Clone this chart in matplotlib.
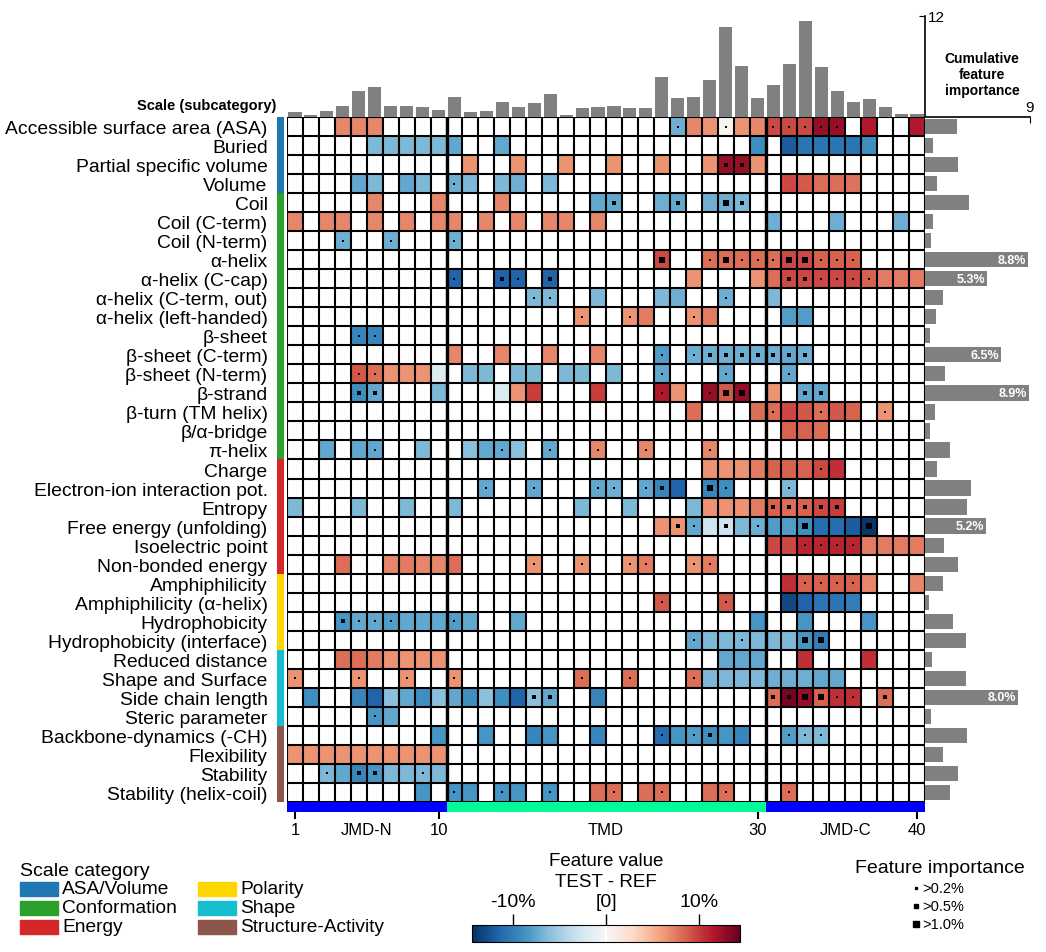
import numpy as np
import matplotlib.pyplot as plt
from matplotlib.patches import Rectangle
from matplotlib.colors import Normalize
from matplotlib.cm import ScalarMappable

plt.rcParams['font.family'] = ['Liberation Sans', 'DejaVu Sans']

# ---- data ----
scales = ["Accessible surface area (ASA)", "Buried", "Partial specific volume", "Volume",
          "Coil", "Coil (C-term)", "Coil (N-term)", "α-helix", "α-helix (C-cap)",
          "α-helix (C-term, out)", "α-helix (left-handed)", "β-sheet", "β-sheet (C-term)",
          "β-sheet (N-term)", "β-strand", "β-turn (TM helix)", "β/α-bridge", "π-helix",
          "Charge", "Electron-ion interaction pot.", "Entropy", "Free energy (unfolding)",
          "Isoelectric point", "Non-bonded energy", "Amphiphilicity", "Amphiphilicity (α-helix)",
          "Hydrophobicity", "Hydrophobicity (interface)", "Reduced distance", "Shape and Surface",
          "Side chain length", "Steric parameter", "Backbone-dynamics (-CH)", "Flexibility",
          "Stability", "Stability (helix-coil)"]
scale_cat = [0]*4 + [1]*14 + [2]*6 + [3]*4 + [4]*4 + [5]*4
cat_names = ["ASA/Volume", "Conformation", "Energy", "Polarity", "Shape", "Structure-Activity"]
cat_colors = ["#1f77b4", "#2ca02c", "#d62728", "#ffd700", "#17becf", "#8c564b"]

# per scale: (position, feature value TEST-REF in %, importance level 1..3 optional)
features = [
    [(4,7),(5,7),(6,7),(25,-7,1),(26,7),(27,6.5),(28,0.3,1),(29,6.5),(30,7),(31,9.5,1),(32,9.5,1),
     (33,9.5,1),(34,12.5,1),(35,12.5,1),(37,11.5),(40,11.5)],
    [(6,-6.5),(7,-6.5),(8,-6.5),(9,-6.5),(10,-6.5),(11,-7.5),(14,-7.5),(30,-9),(32,-12),(33,-10.5),
     (34,-10.5),(35,-10.5),(36,-10.5),(37,-9)],
    [(12,6.5),(15,6.5),(18,6.5),(21,6.5),(24,6.5),(27,6.5),(28,12.5,2),(29,12.5,2),(30,6.5)],
    [(5,-7.5),(6,-6.5),(8,-7.5),(9,-6.5),(11,-7,1),(12,-6.5),(14,-6.5),(15,-7),(17,-6.5),(32,9.5),
     (33,8.8),(34,8),(35,8),(36,7.8)],
    [(6,7),(10,7),(14,7),(20,-7.5),(21,-7.5,2),(24,-7),(25,-7.5,2),(27,-7),(28,-7,3),(29,-6.5,2)],
    [(1,7),(3,7),(4,7),(6,7),(8,7),(10,7),(11,7),(13,7),(15,7),(17,7),(18,7),(20,7),(31,-7),(35,-7),(39,-7)],
    [(4,-7,1),(7,-7,1),(11,-7,1)],
    [(24,9.5,3),(27,8,1),(28,8,3),(29,8,1),(30,8,1),(31,8,1),(32,9.5,3),(33,9.5,3),(34,8.5,1),
     (35,8.5,1),(36,8.5,1)],
    [(11,-11.5,1),(14,-11.5,2),(15,-11.5,1),(17,-11.5,2),(26,6.5),(30,6.5),(31,8),(32,9.5,2),(33,9.5,2),
     (34,9.5,1),(35,9.5,1),(36,9.5,1),(37,8.5,1),(38,7.5),(39,7.5),(40,7.5)],
    [(16,-6.5,1),(17,-6.5,1),(20,-6.5),(24,-6.5),(25,-7),(28,-7,1),(31,-6.5)],
    [(19,6.5,1),(22,6.5,1),(23,7.5),(26,6.5,1),(27,7.5),(32,-8),(33,-8)],
    [(5,-9.5,1),(6,-9.5,1)],
    [(11,7),(14,7),(17,7),(20,7),(24,-8,1),(26,-7,1),(27,-7,2),(28,-7,2),(29,-7,2),(30,-7,2),(31,-7,2),
     (32,-7.5,2),(33,-7,2)],
    [(5,9,1),(6,8,1),(7,6.5),(8,6.5),(9,6.5),(10,-2),(12,-6.5),(13,-6.5),(15,-6.5),(16,-6.5),(18,-6.5),
     (19,-6.5),(21,-6.5),(24,-7.5,1),(28,-7.5,1),(32,-7.5,1)],
    [(5,-9,2),(6,-7.5,2),(10,-6.5),(14,-2),(15,6.5),(16,10),(20,10),(24,11.5,1),(25,6.5),(27,12.5,1),
     (28,9,3),(29,12.5,3),(31,6.5),(33,-7.5,2),(34,-7.5,2)],
    [(26,8),(30,8),(31,8,1),(32,9.5),(33,9),(34,8,1),(35,9),(36,8.5),(38,6.5,1)],
    [(32,8.5),(33,8.5),(34,8)],
    [(3,-7.5),(5,-7.5),(6,-7.5,1),(9,-6.5),(12,-6),(13,-7.5),(14,-7.5,1),(15,-6),(17,-7.5,1),(20,7,1),
     (23,7,1),(27,7,1)],
    [(27,6.5),(28,6.5),(29,6.5),(30,7.5),(31,8.5),(32,8.5),(33,8.5),(34,9.5,1),(35,10.5)],
    [(13,-7.5,1),(16,-7.5,1),(20,-7.5,1),(21,-7,1),(23,-7.5,1),(24,-9.5,2),(25,-11.5),(27,-9.5,3),
     (28,-9,1),(32,-6.5,1)],
    [(1,-6.5),(5,-6.5),(8,-6.5),(11,-6.5),(19,-6.5),(22,-6.5),(26,-6.5),(27,6.5),(28,6.5),(29,6.5),
     (30,7.5),(31,8.5,2),(32,8,2),(33,8.5,2),(34,9.5,2),(35,10,2)],
    [(24,6.5),(25,6.5,2),(26,-7.5,1),(27,-3),(28,-3,2),(29,-6.5),(30,-7,1),(31,-8),(32,-8),(33,-9,3),
     (34,-11),(35,-11),(36,-12),(37,-14,3)],
    [(31,9.5),(32,9.5),(33,11,1),(34,11,1),(35,11,1),(36,11,1),(37,7.5),(38,7.5),(39,7.5),(40,7.5)],
    [(4,8),(7,7),(8,7.5),(9,7),(10,7),(11,8),(16,6.5,1),(19,6.5,1),(22,6.5,1),(23,7.5,1),(26,6.5,1),
     (27,7.5,1)],
    [(32,10.5),(33,8.5,1),(34,8.5,1),(35,8.5,1),(36,8.5,1),(37,7),(40,7)],
    [(24,9,1),(28,9,1),(32,-13),(33,-11.5),(34,-10.5),(35,-10.5),(36,-10)],
    [(4,-8.5,2),(5,-7.5,1),(6,-7.5,1),(7,-8,1),(8,-7.5),(9,-7.5),(10,-7.5),(11,-8,1),(12,-7.5),(15,-7.5),
     (30,-8.5),(33,-8.5),(37,-8.5)],
    [(26,-7.5,1),(27,-6.5),(28,-6.5),(29,-6.5,1),(30,-6.5),(31,-6.5),(32,-6.5),(33,-8.5,3),(34,-10,3)],
    [(4,8),(5,8),(6,7.5),(7,6.5),(8,6.5),(9,6.5),(10,6.5),(28,-7.5),(29,-7.5),(30,-7.5),(33,10.5),(37,10.5)],
    [(1,6.5,1),(5,6.5,1),(8,6.5,1),(11,6.5,1),(19,8,1),(22,8,1),(26,8,1),(27,-6.5),(28,-6.5),(29,-6.5),
     (30,-6.5),(31,-7),(32,-7),(33,-7),(34,-7.5),(35,-7.5)],
    [(2,-9),(5,-9.5),(6,-11.5),(7,-6),(8,-7.5),(9,-9),(10,-6),(11,-7.5),(12,-9),(13,-6),(14,-9),(15,-11.5),
     (16,-6,2),(17,-7.5,2),(20,-9.5),(31,8,2),(32,13.8,2),(33,12.5,3),(34,8.5,3),(35,10.5,1),(36,10.5,1),
     (38,8,2)],
    [(6,-8.5,1),(7,-7.5)],
    [(10,-8.5),(13,-8.5),(16,-9.5),(17,-8.5),(20,-9.5),(24,-11,1),(25,-8.5),(26,-8,1),(27,-9,2),(28,-8.5),
     (29,-9.5),(32,-8,1),(33,-6.5,1),(34,-6.5,1)],
    [(1,6.5),(2,6.5),(3,6.5),(4,6.5),(5,6.5),(6,6.5),(7,6.5),(8,6.5),(9,6.5),(10,6.5)],
    [(3,-6.5,1),(4,-7.5),(5,-9.5,2),(6,-8.5,2),(7,-6.5),(8,-6.5),(9,-6.5,1),(10,-6.5)],
    [(9,-8.5),(11,-8.5,1),(12,-8.5),(14,-8.5,1),(15,-8.5),(17,-8.5,1),(20,8),(21,8,1),(23,8),(24,8,1),
     (27,8),(28,8,1),(32,8,1)],
]

# cumulative feature importance per residue position (1..40)
pos_importance = [0.57, 0.23, 0.69, 1.30, 3.09, 3.54, 1.26, 1.26, 1.14, 0.80,
                  2.40, 0.57, 0.69, 1.83, 1.14, 1.71, 2.74, 0.23, 1.03, 1.14,
                  1.26, 1.03, 1.03, 4.80, 2.29, 2.40, 4.34, 10.7, 6.06, 2.29,
                  3.77, 6.29, 11.4, 5.94, 3.09, 1.83, 2.17, 1.14, 0.34, 0.34]
# cumulative feature importance per scale (%)
scale_importance = [2.77, 0.71, 2.86, 1.06, 3.80, 0.71, 0.54, 8.8, 5.3, 1.57,
                    0.97, 0.46, 6.5, 1.74, 8.9, 0.89, 0.46, 2.17, 1.06, 3.97,
                    3.63, 5.2, 1.66, 2.86, 1.57, 0.37, 2.43, 3.54, 0.63, 3.54,
                    8.0, 0.54, 3.63, 1.57, 2.86, 2.17]

tmd_parts = ["JMD-N", "TMD", "JMD-C"]
tmd_bounds = [(0, 10), (10, 30), (30, 40)]
tmd_colors = ["#0000ff", "#00fa9a", "#0000ff"]
imp_labels = [">0.2%", ">0.5%", ">1.0%"]

n_rows, n_cols = len(scales), 40
mat = np.zeros((n_rows, n_cols))
imp = np.zeros((n_rows, n_cols), int)
for r, row in enumerate(features):
    for t in row:
        mat[r, t[0] - 1] = t[1]
        if len(t) > 2:
            imp[r, t[0] - 1] = t[2]

W, H = 1046, 953
fig = plt.figure(figsize=(W / 100, H / 100), dpi=100)


def ax_px(x0, y0, x1, y1):
    return fig.add_axes([x0 / W, 1 - y1 / H, (x1 - x0) / W, (y1 - y0) / H])


vmax = 14.4
cmap = plt.get_cmap("RdBu_r").copy()
cmap.set_bad("white")
dot_sizes = [2.0, 7.5, 16]

# main heatmap
ax = ax_px(287, 118, 925, 803)
ax.pcolormesh(np.ma.masked_equal(mat, 0), cmap=cmap, vmin=-vmax, vmax=vmax)
ax.set_xlim(0, n_cols)
ax.set_ylim(n_rows, 0)
ax.vlines(range(n_cols + 1), 0, n_rows, color="k", lw=1.5)
ax.hlines(range(n_rows + 1), 0, n_cols, color="k", lw=1.5)
ax.vlines([10, 30], 0, n_rows, color="k", lw=2.4)
for lvl, s in zip([1, 2, 3], dot_sizes):
    rr, cc = np.where(imp == lvl)
    ax.scatter(cc + 0.5, rr + 0.5, s=s, marker="s", c="k", linewidths=0, zorder=5)
ax.set_yticks(np.arange(n_rows) + 0.5)
ax.set_yticklabels(scales, fontsize=13.9)
ax.tick_params(axis="y", length=0, pad=14)
ax.set_xticks([])
for sp in ax.spines.values():
    sp.set_visible(False)

# category strip
axc = ax_px(277, 118, 284, 803)
axc.barh(np.arange(n_rows) + 0.5, 1, height=1, color=[cat_colors[c] for c in scale_cat])
axc.set_ylim(n_rows, 0)
axc.set_xlim(0, 1)
axc.axis("off")

# TMD / JMD bar
axb = ax_px(287, 803, 925, 813)
for (a, b), col in zip(tmd_bounds, tmd_colors):
    axb.barh(0.5, b - a, left=a, height=1, color=col)
axb.set_xlim(0, n_cols)
axb.set_ylim(0, 1)
for sp in axb.spines.values():
    sp.set_visible(False)
axb.set_yticks([])
axb.set_xticks([0.5, 9.5, 29.5, 39.5])
axb.set_xticklabels(["1", "10", "30", "40"], fontsize=12)
axb.tick_params(axis="x", length=5, width=1.5, pad=2)
for (a, b), name in zip(tmd_bounds, tmd_parts):
    axb.text((a + b) / 2, -1.8, name, ha="center", va="center", fontsize=12)

# top bars: importance per position
axt = ax_px(287, 17, 925, 118)
axt.bar(np.arange(n_cols) + 0.5, pos_importance, width=0.82, color="#808080")
axt.set_xlim(0, n_cols)
axt.set_ylim(0, 12)
for k in ["top", "left", "bottom"]:
    axt.spines[k].set_visible(False)
axt.spines["right"].set_linewidth(1.2)
axt.yaxis.tick_right()
axt.set_yticks([12])
axt.tick_params(axis="y", direction="in", length=4, labelsize=11, pad=2)
axt.set_xticks([])

# right bars: importance per scale
axr = ax_px(925, 118, 1030, 803)
axr.barh(np.arange(n_rows) + 0.5, scale_importance, height=0.8, color="#808080")
axr.set_xlim(0, 9)
axr.set_ylim(n_rows, 0)
for k in ["right", "left", "bottom"]:
    axr.spines[k].set_visible(False)
axr.spines["top"].set_linewidth(1.2)
axr.xaxis.tick_top()
axr.set_xticks([9])
axr.tick_params(axis="x", direction="in", length=4, labelsize=11, pad=2)
axr.set_yticks([])
for i, v in enumerate(scale_importance):
    if v >= 5:
        axr.text(v - 0.15, i + 0.5, f"{v:.1f}%", ha="right", va="center", color="white",
                 fontsize=9, fontweight="bold")

fig.text(982 / W, 1 - 75 / H, "Cumulative\nfeature\nimportance", ha="center", va="center",
         fontsize=10, fontweight="bold", linespacing=1.2)
fig.text(276 / W, 1 - 106 / H, "Scale (subcategory)", ha="right", va="center",
         fontsize=10.5, fontweight="bold")

# scale category legend
fig.text(20 / W, 1 - 872 / H, "Scale category", ha="left", va="center", fontsize=14)
for i, (name, col) in enumerate(zip(cat_names, cat_colors)):
    x0 = 20 if i < 3 else 198
    yc = [890, 909, 928][i % 3]
    fig.add_artist(Rectangle((x0 / W, 1 - (yc + 7) / H), 38 / W, 14 / H, color=col,
                             transform=fig.transFigure))
    fig.text((x0 + 42) / W, 1 - yc / H, name, ha="left", va="center", fontsize=13.8)

# colorbar legend
fig.text(606 / W, 1 - 862 / H, "Feature value", ha="center", va="center", fontsize=13.5)
fig.text(606 / W, 1 - 883 / H, "TEST - REF", ha="center", va="center", fontsize=13.5)
cax = ax_px(472, 926, 740, 943)
cb = fig.colorbar(ScalarMappable(norm=Normalize(-vmax, vmax), cmap=cmap), cax=cax,
                  orientation="horizontal")
cb.set_ticks([-10, 0, 10])
cb.set_ticklabels(["-10%", "[0]", "10%"])
cax.xaxis.set_ticks_position("top")
cax.tick_params(axis="x", length=8, width=1, labelsize=14, pad=3)
cax.axvline(0, color="white", lw=1.5)
cb.outline.set_linewidth(0.8)

# importance legend
fig.text(940 / W, 1 - 869 / H, "Feature importance", ha="center", va="center", fontsize=14)
for (lab, s, yc) in zip(imp_labels, dot_sizes, [889, 907, 925]):
    fig.add_artist(plt.Line2D([916 / W], [1 - yc / H], marker="s", color="k",
                              markersize=np.sqrt(s), linestyle="none", transform=fig.transFigure))
    fig.text(922 / W, 1 - yc / H, lab, ha="left", va="center", fontsize=10.5)

fig.savefig("out.png", dpi=100)
